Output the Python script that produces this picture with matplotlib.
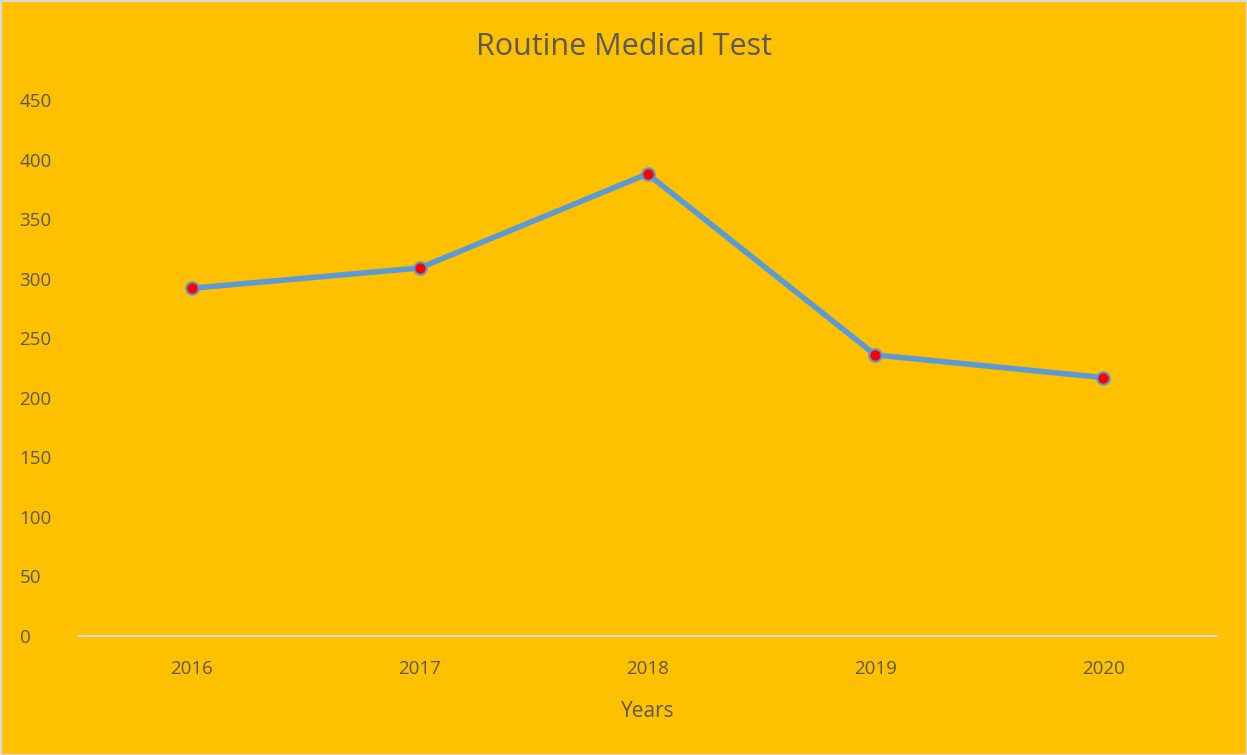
import matplotlib.pyplot as plt

# data
years = ["2016", "2017", "2018", "2019", "2020"]
tests = [292, 309, 388, 236, 217]

plt.rcParams['font.family'] = ['Open Sans', 'DejaVu Sans']

fig = plt.figure(figsize=(12.47, 7.55), dpi=100)
fig.patch.set_facecolor('#FFC000')
fig.patch.set_edgecolor('#D9D9D9')
fig.patch.set_linewidth(2)

ax = fig.add_axes([0.0625, 0.1576, 0.9135, 0.7099])
ax.set_facecolor('#FFC000')

x = range(len(years))
ax.plot(x, tests, color='#5B9BD5', linewidth=4, marker='o', markersize=9,
        markerfacecolor='#FF0000', markeredgecolor='#5B9BD5', markeredgewidth=1.5,
        solid_capstyle='round')

ax.set_xlim(-0.5, len(years) - 0.5)
ax.set_ylim(0, 450)
ax.set_yticks(range(0, 451, 50))
ax.set_xticks(list(x))
ax.set_xticklabels(years)

for s in ['top', 'right', 'left']:
    ax.spines[s].set_visible(False)
ax.spines['bottom'].set_color('#D9D9D9')
ax.spines['bottom'].set_linewidth(1.5)

ax.tick_params(axis='both', length=0, labelsize=13.5, labelcolor='#595959')
ax.tick_params(axis='x', pad=17)
ax.tick_params(axis='y', pad=42)
for lbl in ax.get_yticklabels():
    lbl.set_horizontalalignment('left')

ax.set_xlabel("Years", fontsize=15, color='#595959', labelpad=17)
fig.suptitle("Routine Medical Test", fontsize=22, color='#595959', y=0.957)

fig.savefig("out.png", dpi=100, facecolor=fig.get_facecolor(), edgecolor=fig.get_edgecolor())
